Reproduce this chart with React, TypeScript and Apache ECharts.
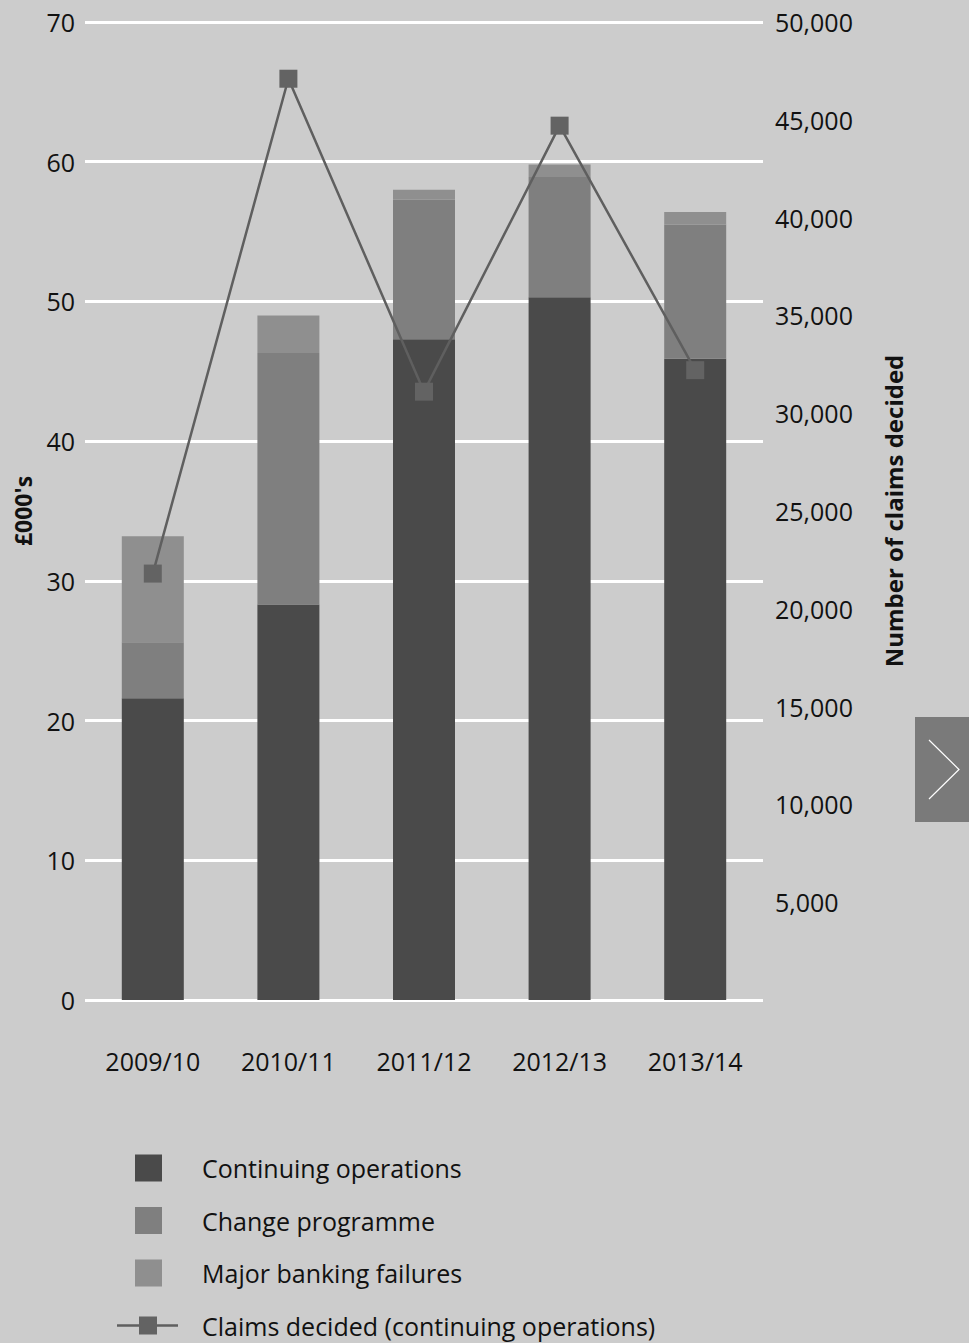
import React, { useEffect, useRef } from "react";
import * as echarts from "echarts";

const categories = ["2009/10", "2010/11", "2011/12", "2012/13", "2013/14"];
const continuingOps = [21.6, 28.3, 47.3, 50.3, 45.9];
const changeProgramme = [4.0, 18.0, 10.0, 8.6, 9.6];
const majorBanking = [7.6, 2.7, 0.7, 0.9, 0.9];
const claimsDecided = [21800, 47100, 31100, 44700, 32200];

const legendLabels = [
  "Continuing operations",
  "Change programme",
  "Major banking failures",
  "Claims decided (continuing operations)",
];

const FONT = "'Open Sans', 'Noto Sans', sans-serif";
const C_CONT = "#4a4a4a";
const C_CHANGE = "#7f7f7f";
const C_MAJOR = "#8f8f8f";
const C_LINE = "#5f5f5f";

export default function App() {
  const ref = useRef<HTMLDivElement>(null);

  useEffect(() => {
    document.body.style.margin = "0";
    const chart = echarts.init(ref.current!, null, { renderer: "svg" });

    const legendTop = 1168;
    const legendGap = 52.5;
    const legendGraphics: any[] = [];
    const colors = [C_CONT, C_CHANGE, C_MAJOR];
    legendLabels.forEach((label, i) => {
      const cy = legendTop + i * legendGap;
      if (i < 3) {
        legendGraphics.push({
          type: "rect",
          shape: { x: 135, y: cy - 13.5, width: 27, height: 27 },
          style: { fill: colors[i] },
        });
      } else {
        legendGraphics.push({
          type: "line",
          shape: { x1: 117, y1: cy, x2: 178, y2: cy },
          style: { stroke: C_LINE, lineWidth: 2.5 },
        });
        legendGraphics.push({
          type: "rect",
          shape: { x: 139, y: cy - 9, width: 18, height: 18 },
          style: { fill: "#636363" },
        });
      }
      legendGraphics.push({
        type: "text",
        x: 202,
        y: cy,
        style: {
          text: label,
          fill: "#111",
          font: `25px ${FONT}`,
          textVerticalAlign: "middle",
          verticalAlign: "middle",
        },
      });
    });

    const option: any = {
      animation: false,
      backgroundColor: "#cccccc",
      textStyle: { fontFamily: FONT },
      grid: {
        left: 85,
        right: 206,
        top: 22,
        bottom: 343,
        containLabel: false,
        outerBoundsMode: "none",
      },
      xAxis: {
        type: "category",
        data: categories,
        axisLine: { show: false },
        axisTick: { show: false },
        axisLabel: { color: "#111", fontSize: 25, margin: 48, fontFamily: FONT },
      },
      yAxis: [
        {
          type: "value",
          min: 0,
          max: 70,
          interval: 10,
          name: "£000's",
          nameLocation: "middle",
          nameGap: 51,
          nameMoveOverlap: false,
          nameRotate: 90,
          nameTextStyle: { color: "#111", fontSize: 23, fontWeight: "bold", fontFamily: FONT },
          axisLine: { show: false },
          axisTick: { show: false },
          axisLabel: { color: "#111", fontSize: 25, margin: 10, fontFamily: FONT },
          splitLine: { show: true, lineStyle: { color: "#ffffff", width: 3 } },
        },
        {
          type: "value",
          min: 0,
          max: 50000,
          interval: 5000,
          position: "right",
          name: "Number of claims decided",
          nameLocation: "middle",
          nameGap: 118,
          nameMoveOverlap: false,
          nameRotate: 90,
          nameTextStyle: { color: "#111", fontSize: 24, fontWeight: "bold", fontFamily: FONT },
          axisLine: { show: false },
          axisTick: { show: false },
          splitLine: { show: false },
          axisLabel: {
            color: "#111",
            fontSize: 25,
            margin: 12,
            fontFamily: FONT,
            formatter: (v: number) => (v === 0 ? "" : v.toLocaleString("en-GB")),
          },
        },
      ],
      series: [
        {
          name: legendLabels[0],
          type: "bar",
          stack: "cost",
          barWidth: 62,
          data: continuingOps,
          itemStyle: { color: C_CONT },
        },
        {
          name: legendLabels[1],
          type: "bar",
          stack: "cost",
          barWidth: 62,
          data: changeProgramme,
          itemStyle: { color: C_CHANGE },
        },
        {
          name: legendLabels[2],
          type: "bar",
          stack: "cost",
          barWidth: 62,
          data: majorBanking,
          itemStyle: { color: C_MAJOR },
        },
        {
          name: legendLabels[3],
          type: "line",
          yAxisIndex: 1,
          data: claimsDecided,
          symbol: "rect",
          symbolSize: 18,
          lineStyle: { color: C_LINE, width: 2.5 },
          itemStyle: { color: "#636363" },
        },
      ],
      graphic: [
        ...legendGraphics,
        {
          type: "rect",
          shape: { x: 915, y: 717, width: 54, height: 105 },
          style: { fill: "#7a7a7a" },
        },
        {
          type: "polyline",
          shape: { points: [[929, 740], [959, 769.5], [929, 799]] },
          style: { stroke: "#ffffff", lineWidth: 1.2, fill: "none" },
        },
      ],
    };

    chart.setOption(option);
    return () => chart.dispose();
  }, []);

  return <div ref={ref} style={{ width: 969, height: 1343 }} />;
}
